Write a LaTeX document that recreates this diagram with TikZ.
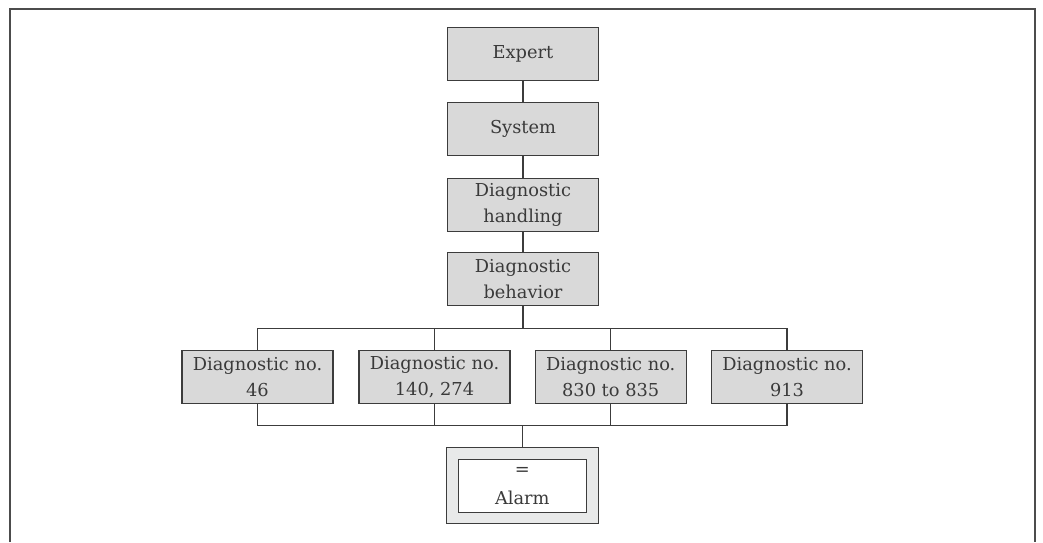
\documentclass[tikz,border=0pt]{standalone}
\usepackage{fontspec}
\setmainfont{DejaVu Serif}
\definecolor{boxgray}{HTML}{D9D9D9}
\definecolor{framegray}{HTML}{E8E9E9}
\definecolor{linegray}{HTML}{3C3C3C}
\definecolor{textgray}{HTML}{3A3A3A}
\begin{document}
\begin{tikzpicture}[x=1pt,y=-1pt,
    menubox/.style={draw=linegray,line width=1.2pt,fill=boxgray,text=textgray,
      minimum width=151pt,minimum height=53pt,align=center,inner sep=0pt,
      font=\fontsize{17.8}{26}\selectfont},
    link/.style={draw=linegray,line width=1.2pt}]

      \useasboundingbox (0,0) rectangle (1043,542);
      \draw[line width=2pt,draw=black!70] (9.5,542) -- (9.5,8.5) -- (1034.5,8.5) -- (1034.5,542); % frame

      \node[menubox] (expert) at (523,53.8) {Expert};
      \node[menubox] (system) at (523,129.2) {System};
      \node[menubox] (handling) at (523,204.7) {Diagnostic\\handling};
      \node[menubox] (behavior) at (523,279.2) {Diagnostic\\behavior};

      \node[menubox] (diag46) at (257.5,376.7) {Diagnostic no.\\46};
      \node[menubox] (diag140) at (434.5,376.7) {Diagnostic no.\\140, 274};
      \node[menubox] (diag830) at (610.7,376.7) {Diagnostic no.\\830 to 835};
      \node[menubox] (diag913) at (787,376.7) {Diagnostic no.\\913};

      \node[draw=linegray,line width=1.2pt,fill=framegray,minimum width=152pt,minimum height=76pt] (alarmframe) at (522.3,485.7) {};
      \node[draw=linegray,line width=1.1pt,fill=white,text=textgray,minimum width=128.5pt,minimum height=53pt,
        align=center,inner sep=0pt,font=\fontsize{17.8}{29}\selectfont] (alarm) at (522.3,485.7) {=\\Alarm};

      \coordinate (topbus) at (523,328.7);
      \coordinate (botbus) at (522.3,425.7);

      \draw[link] (expert) -- (system);
      \draw[link] (system) -- (handling);
      \draw[link] (handling) -- (behavior);
      \draw[link] (behavior) -- (topbus);

      \draw[link] (diag46.north) |- (topbus) -| (diag913.north); % top bus
      \draw[link] (diag140.north) -- (diag140.north |- topbus);
      \draw[link] (diag830.north) -- (diag830.north |- topbus);

      \draw[link] (diag46.south) |- (botbus) -| (diag913.south); % bottom bus
      \draw[link] (diag140.south) -- (diag140.south |- botbus);
      \draw[link] (diag830.south) -- (diag830.south |- botbus);
      \draw[link] (botbus) -- (alarmframe.north);

    \end{tikzpicture}
\end{document}
